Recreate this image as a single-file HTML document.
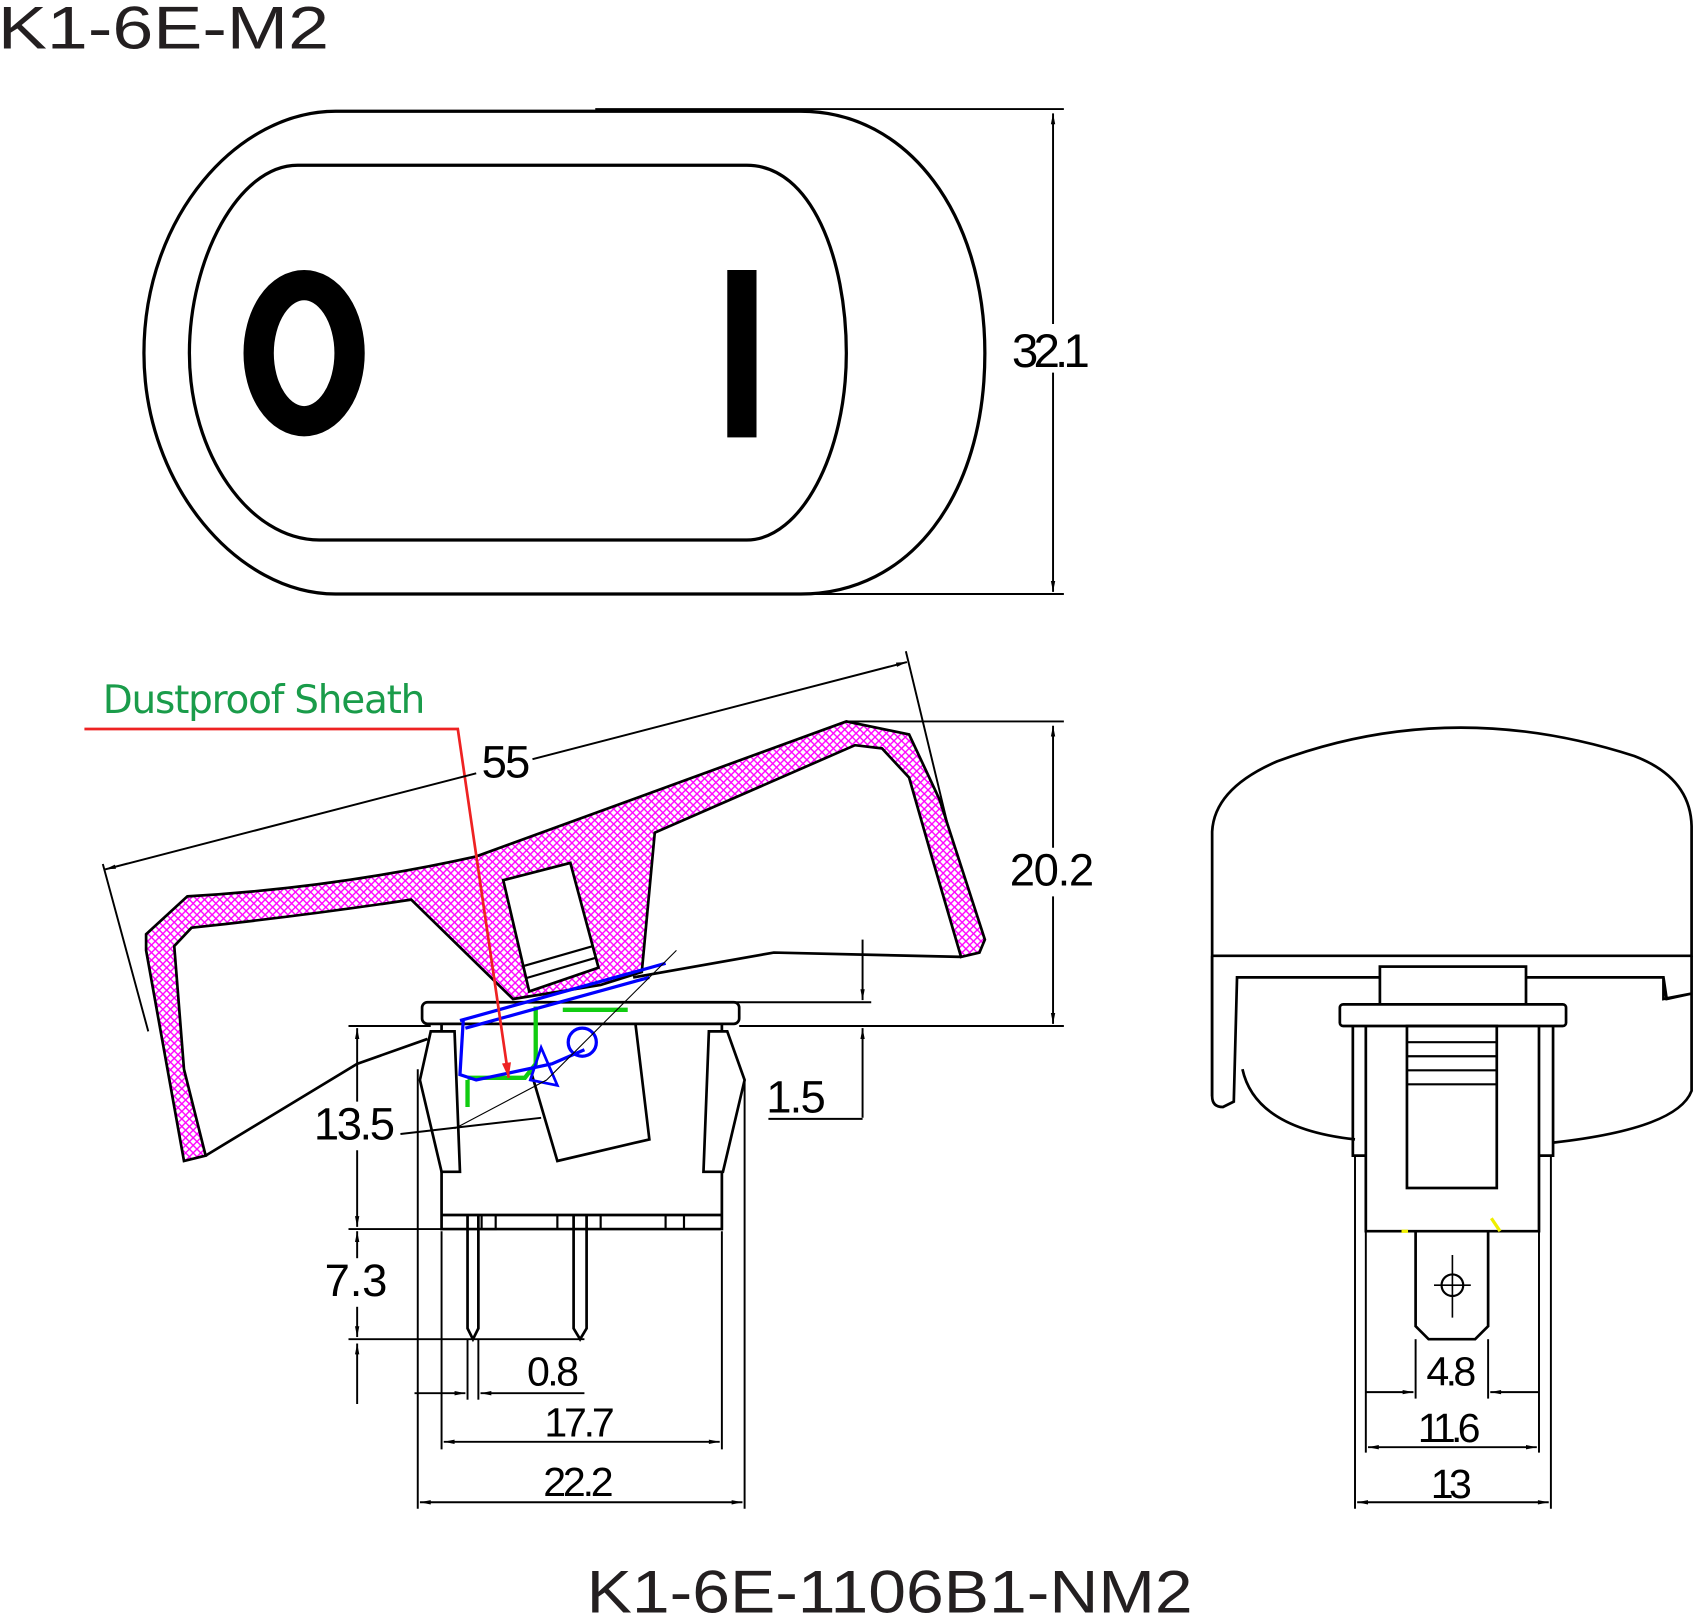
<!DOCTYPE html>
<html><head><meta charset="utf-8"><style>html,body{margin:0;padding:0;background:#fff}svg{display:block}</style></head>
<body>
<svg width="1697" height="1620" viewBox="0 0 1568 1500" preserveAspectRatio="none" xmlns="http://www.w3.org/2000/svg" font-family="Liberation Sans, sans-serif">
<defs>
<pattern id="h" width="7" height="7" patternUnits="userSpaceOnUse">
<rect width="7" height="7" fill="#fff"/>
<path d="M0,0L7,7M7,0L0,7" stroke="#f0f" stroke-width="1.3"/>
</pattern>
<marker id="a" viewBox="0 0 10 10" refX="10" refY="5" markerWidth="14" markerHeight="10" orient="auto-start-reverse" markerUnits="userSpaceOnUse"><path d="M0,3L10,5L0,7z" fill="#000"/></marker>
<marker id="r" viewBox="0 0 10 10" refX="10" refY="5" markerWidth="30" markerHeight="14" orient="auto" markerUnits="userSpaceOnUse"><path d="M0,2L10,5L0,8z" fill="#e22"/></marker>
</defs>
<g fill="none" stroke="#000" stroke-width="3">
<text x="-2" y="45" font-size="56" fill="#231f20" stroke="none" textLength="306" lengthAdjust="spacingAndGlyphs">K1-6E-M2</text>
<!-- top view -->
<path d="M310,103 L740,103 C840,103 910,200 910,327 C910,460 840,550 740,550 L310,550 C220,550 133,450 133,327 C133,200 220,103 310,103Z"/>
<path d="M275,153 L690,153 C750,153 782,240 782,327 C782,420 740,500 690,500 L295,500 C230,500 175,420 175,327 C175,240 220,153 275,153Z"/>
<ellipse cx="281" cy="327" rx="42" ry="63" stroke-width="28"/>
<rect x="672" y="250" width="27" height="155" fill="#000" stroke="none"/>
<g stroke-width="1.8">
<line x1="550" y1="101" x2="983" y2="101"/><line x1="740" y1="550" x2="983" y2="550"/>
<line x1="973" y1="105" x2="973" y2="300" marker-start="url(#a)"/><line x1="973" y1="345" x2="973" y2="548" marker-end="url(#a)"/>
</g>
<text x="935" y="340" font-size="44" fill="#000" stroke="none" textLength="72">32.1</text>
<!-- side section -->
<path d="M170,1075 L135,880 L135,865 L173,830 Q310,822 440,793 L782,668 L840,680 L868,740 L910,870 L905,882 L888,886 L860,790 L840,720 L815,693 L790,690 L605,771 L593,900 L555,912 L474,925 L380,833 Q280,848 177,859 L161,876 L170,990 L190,1070Z" fill="url(#h)" stroke-width="2.5"/>
<path d="M190,1070 L330,985 L395,962" stroke-width="2.5"/>
<path d="M888,886 L715,882 L585,905" stroke-width="2.5"/>
<path d="M465,815 L527,799 L553,896 L489,918Z" fill="#fff" stroke-width="2.5"/>
<path d="M482,895 L548,876 M485,906 L550,887" stroke-width="2"/>
<path d="M490,990 L515,1075 L600,1055 L585,930" fill="#fff" stroke-width="2.5"/>
<rect x="390" y="928" width="293" height="20" rx="5" fill="#fff" stroke-width="2.5"/>
<path d="M408,948 L408,1138 L667,1138 L667,948 M408,1125 L667,1125" stroke-width="2.5"/>
<path d="M398,955 L388,1000 L408,1085 L425,1085 L420,955Z M672,955 L688,1000 L668,1085 L650,1085 L655,955Z" fill="#fff" stroke-width="2.5"/>
<path d="M432,1125 L432,1230 L437,1240 L442,1230 L442,1125 M530,1125 L530,1230 L536,1240 L542,1230 L542,1125" stroke-width="2.5"/>
<path d="M445,1125 L445,1138 L458,1138 L458,1125 M615,1125 L615,1138 M632,1125 L632,1138 M515,1125 L515,1138 M555,1125 L555,1138" stroke-width="2"/>
<!-- colored internals -->
<g stroke="#1c1" stroke-width="4"><path d="M432,1000 L432,1025 M495,932 L495,985 L485,998 L432,998 M520,935 L580,935"/></g>
<g stroke="#00f" stroke-width="3">
<path d="M425,945 L615,892 M430,952 L600,905 M428,945 L425,995 L440,1000 L510,985 L540,972"/>
<path d="M500,970 L490,1000 L515,1005 Z" stroke-width="2.5"/>
<circle cx="538" cy="965" r="13"/>
</g>
<path d="M625,880 L505,1000 L420,1045" stroke-width="1"/>
<path d="M78,675 L423,675 L470,998" stroke="#e22" stroke-width="2.5" marker-end="url(#r)"/>
<text x="95" y="660" font-size="36" fill="#1a9c4a" stroke="none" font-family="DejaVu Sans, sans-serif" textLength="298">Dustproof Sheath</text>
<!-- dims side -->
<g stroke-width="1.8">
<line x1="97" y1="805" x2="440" y2="716" marker-start="url(#a)"/><line x1="492" y1="703" x2="838" y2="613" marker-end="url(#a)"/>
<line x1="95" y1="800" x2="137" y2="955"/><line x1="837" y1="603" x2="876" y2="765"/>
<line x1="782" y1="668" x2="983" y2="668"/><line x1="683" y1="950" x2="983" y2="950"/>
<line x1="973" y1="672" x2="973" y2="785" marker-start="url(#a)"/><line x1="973" y1="830" x2="973" y2="948" marker-end="url(#a)"/>
<line x1="595" y1="928" x2="805" y2="928"/>
<line x1="797" y1="870" x2="797" y2="926" marker-end="url(#a)"/><line x1="797" y1="1035" x2="797" y2="952" marker-end="url(#a)"/>
<line x1="710" y1="1036" x2="797" y2="1036"/>
<line x1="322" y1="950" x2="398" y2="950"/>
<line x1="330" y1="952" x2="330" y2="1020" marker-start="url(#a)"/><line x1="330" y1="1065" x2="330" y2="1136" marker-end="url(#a)"/>
<line x1="322" y1="1138" x2="667" y2="1138"/><line x1="322" y1="1240" x2="540" y2="1240"/>
<line x1="330" y1="1140" x2="330" y2="1165" marker-start="url(#a)"/><line x1="330" y1="1210" x2="330" y2="1238" marker-end="url(#a)"/>
<line x1="330" y1="1300" x2="330" y2="1244" marker-end="url(#a)"/>
<line x1="370" y1="1050" x2="500" y2="1035"/>
<line x1="386" y1="990" x2="386" y2="1397"/><line x1="688" y1="1000" x2="688" y2="1397"/>
<line x1="408" y1="1140" x2="408" y2="1342"/><line x1="667" y1="1140" x2="667" y2="1342"/>
<line x1="432" y1="1240" x2="432" y2="1296"/><line x1="442" y1="1240" x2="442" y2="1296"/>
<line x1="383" y1="1290" x2="430" y2="1290" marker-end="url(#a)"/><line x1="540" y1="1290" x2="444" y2="1290" marker-end="url(#a)"/>
<line x1="410" y1="1335" x2="665" y2="1335" marker-start="url(#a)" marker-end="url(#a)"/>
<line x1="388" y1="1391" x2="686" y2="1391" marker-start="url(#a)" marker-end="url(#a)"/>
</g>
<g fill="#000" stroke="none" font-size="42">
<text x="445" y="720" textLength="45">55</text>
<text x="933" y="820" textLength="78">20.2</text>
<text x="708" y="1030" textLength="55">1.5</text>
<text x="290" y="1055" textLength="75">13.5</text>
<text x="300" y="1200" textLength="58">7.3</text>
<text x="487" y="1283" textLength="48" font-size="38">0.8</text>
<text x="503" y="1330" textLength="65" font-size="38">17.7</text>
<text x="502" y="1385" textLength="65" font-size="38">22.2</text>
<text x="1318" y="1283" textLength="46" font-size="38">4.8</text>
<text x="1310" y="1335" textLength="58" font-size="38">11.6</text>
<text x="1322" y="1387" textLength="38" font-size="38">13</text>
</g>
<!-- right view -->
<path d="M1120,1015 L1120,770 Q1122,730 1180,705 Q1340,645 1510,700 Q1562,720 1563,765 L1563,885 L1120,885" stroke-width="2.5"/>
<path d="M1120,885 L1120,1015 Q1120,1025 1130,1025 L1140,1020 L1143,905 L1537,905 L1540,925 L1563,920 M1563,885 L1563,1010 Q1550,1045 1435,1058 M1148,990 Q1160,1045 1252,1055 M1537,905 L1537,925 L1563,920" stroke-width="2.5"/>
<rect x="1275" y="895" width="135" height="35" fill="#fff" stroke-width="2.5"/>
<rect x="1238" y="930" width="209" height="20" rx="3" fill="#fff" stroke-width="2.5"/>
<path d="M1250,950 L1250,1070 L1262,1070 M1435,950 L1435,1070 L1422,1070 M1262,950 L1262,1140 L1422,1140 L1422,950" stroke-width="2.5"/>
<rect x="1300" y="950" width="83" height="150" stroke-width="2.5"/>
<path d="M1300,965H1383M1300,978H1383M1300,991H1383M1300,1004H1383" stroke-width="2"/>
<path d="M1308,1140 L1308,1228 L1320,1240 L1363,1240 L1375,1228 L1375,1140" stroke-width="2.5"/>
<circle cx="1342" cy="1190" r="10" stroke-width="2"/><path d="M1342,1162V1220M1325,1190H1359" stroke-width="1.5"/>
<g stroke="#ee0" stroke-width="3"><path d="M1295,1140h6M1378,1128l8,12"/></g>
<g stroke-width="1.8">
<line x1="1252" y1="1070" x2="1252" y2="1397"/><line x1="1433" y1="1070" x2="1433" y2="1397"/>
<line x1="1262" y1="1140" x2="1262" y2="1345"/><line x1="1422" y1="1140" x2="1422" y2="1345"/>
<line x1="1308" y1="1240" x2="1308" y2="1295"/><line x1="1375" y1="1240" x2="1375" y2="1295"/>
<line x1="1262" y1="1289" x2="1306" y2="1289" marker-end="url(#a)"/><line x1="1422" y1="1289" x2="1377" y2="1289" marker-end="url(#a)"/>
<line x1="1264" y1="1340" x2="1420" y2="1340" marker-start="url(#a)" marker-end="url(#a)"/>
<line x1="1254" y1="1391" x2="1431" y2="1391" marker-start="url(#a)" marker-end="url(#a)"/>
</g>
<text x="822" y="1493" font-size="56" fill="#231f20" stroke="none" text-anchor="middle" textLength="560" lengthAdjust="spacingAndGlyphs">K1-6E-1106B1-NM2</text>
</g>
</svg>
</body></html>
